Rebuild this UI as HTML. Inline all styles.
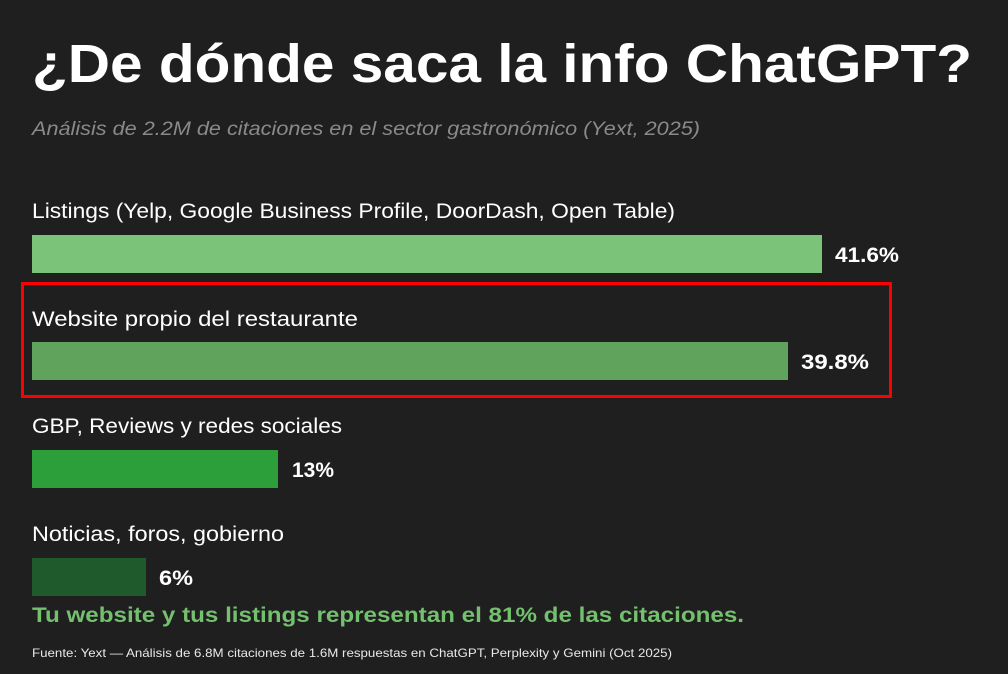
<!DOCTYPE html>
<html><head><meta charset="utf-8"><style>
html,body{margin:0;padding:0;background:#1f1f1f;}
svg{display:block}
text{font-family:"Liberation Sans",sans-serif;}
</style></head><body>
<svg width="1008" height="674" viewBox="0 0 1008 674" xmlns="http://www.w3.org/2000/svg">
<rect width="1008" height="674" fill="#1f1f1f"/>
<text x="32" y="82" font-size="54" font-weight="bold" fill="#fff" textLength="940" lengthAdjust="spacingAndGlyphs">¿De dónde saca la info ChatGPT?</text>
<text x="32" y="135" font-size="19" font-style="italic" fill="#8a8a8a" textLength="668" lengthAdjust="spacingAndGlyphs">Análisis de 2.2M de citaciones en el sector gastronómico (Yext, 2025)</text>

<text x="32" y="218" font-size="21" fill="#fff" textLength="643" lengthAdjust="spacingAndGlyphs">Listings (Yelp, Google Business Profile, DoorDash, Open Table)</text>
<rect x="32" y="235" width="790" height="38" fill="#7bc379"/>
<text x="835" y="262" font-size="21" font-weight="bold" fill="#fff" textLength="64" lengthAdjust="spacingAndGlyphs">41.6%</text>

<rect x="22.5" y="283.5" width="868" height="113" fill="none" stroke="#ff0000" stroke-width="3"/>
<text x="32" y="326" font-size="21" fill="#fff" textLength="326" lengthAdjust="spacingAndGlyphs">Website propio del restaurante</text>
<rect x="32" y="342" width="756" height="38" fill="#5fa35c"/>
<text x="801" y="369" font-size="21" font-weight="bold" fill="#fff" textLength="68" lengthAdjust="spacingAndGlyphs">39.8%</text>

<text x="32" y="433" font-size="21" fill="#fff" textLength="310" lengthAdjust="spacingAndGlyphs">GBP, Reviews y redes sociales</text>
<rect x="32" y="450" width="246" height="38" fill="#2c9f3b"/>
<text x="292" y="477" font-size="21" font-weight="bold" fill="#fff" textLength="42" lengthAdjust="spacingAndGlyphs">13%</text>

<text x="32" y="541" font-size="21" fill="#fff" textLength="252" lengthAdjust="spacingAndGlyphs">Noticias, foros, gobierno</text>
<rect x="32" y="558" width="114" height="38" fill="#1f5a2c"/>
<text x="159" y="585" font-size="21" font-weight="bold" fill="#fff" textLength="34" lengthAdjust="spacingAndGlyphs">6%</text>

<text x="32" y="622" font-size="21" font-weight="bold" fill="#74c06f" textLength="712" lengthAdjust="spacingAndGlyphs">Tu website y tus listings representan el 81% de las citaciones.</text>
<text x="32" y="657" font-size="12" fill="#e8e8e8" textLength="640" lengthAdjust="spacingAndGlyphs">Fuente: Yext — Análisis de 6.8M citaciones de 1.6M respuestas en ChatGPT, Perplexity y Gemini (Oct 2025)</text>
</svg>
</body></html>
